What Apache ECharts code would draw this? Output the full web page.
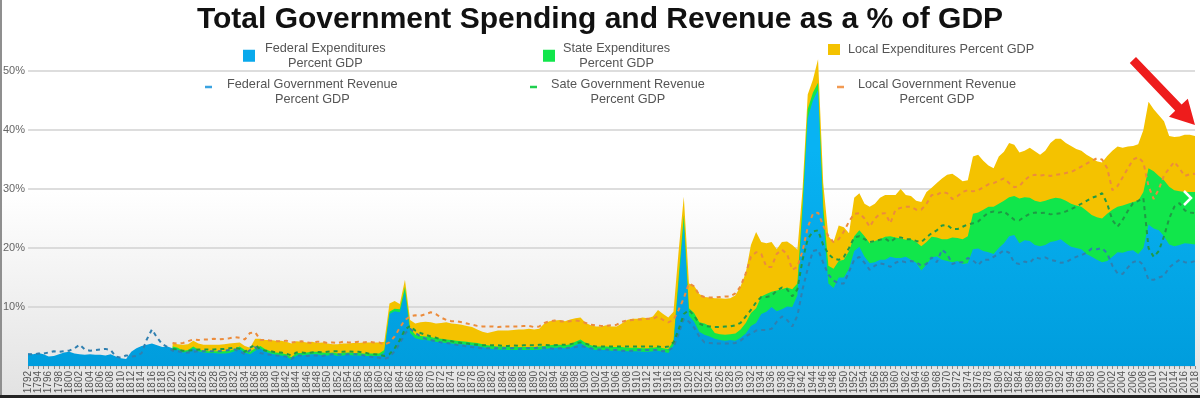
<!DOCTYPE html>
<html>
<head>
<meta charset="utf-8">
<title>Total Government Spending and Revenue as a % of GDP</title>
<script src="https://cdn.jsdelivr.net/npm/echarts@6/dist/echarts.min.js"></script>
<style>
  html, body { margin: 0; padding: 0; }
  body { background: linear-gradient(to bottom, #ffffff 0%, #ffffff 48%, #e2e2e2 100%); }
  #chart { width: 1200px; height: 398px; }
</style>
</head>
<body>
<div id="chart"></div>
<script>
// years on the x axis, 1792 - 2018
var years = [];
for (var yr = 1792; yr <= 2018; yr++) years.push(String(yr));

var yTicks = [0, 10, 20, 30, 40, 50];

// values are the top edge of each band / revenue line, % of GDP
// federal expenditures
var fedTop = [
  2.1, 2.0, 2.2, 2.0, 1.6, 1.7, 2.0, 2.3,
  2.4, 2.1, 2.0, 1.9, 2.0, 1.9, 1.9, 1.8, 2.0, 1.6,
  1.3, 1.2, 2.4, 3.0, 3.4, 3.6, 3.8, 3.5, 3.2, 3.3,
  3.0, 2.8, 2.3, 2.4, 3.0, 2.5, 2.3, 2.2, 2.2, 2.1,
  2.1, 2.2, 2.5, 2.9, 2.3, 2.0, 2.6, 3.0, 2.4, 2.1,
  1.9, 1.8, 1.6, 1.1, 1.8, 1.8, 1.9, 2.0, 2.0, 1.8,
  1.8, 1.9, 1.7, 1.8, 1.9, 1.8, 1.8, 1.7, 1.7, 1.7,
  1.7, 2.3, 8.8, 9.3, 9.1, 12.6, 5.6, 4.7, 4.5, 4.4,
  4.3, 4.1, 4.0, 3.9, 3.8, 3.7, 3.7, 3.6, 3.5, 3.4,
  3.2, 3.0, 2.9, 2.8, 2.8, 2.7, 2.7, 2.7, 2.7, 2.7,
  2.7, 2.8, 2.9, 3.0, 3.1, 3.1, 3.0, 3.1, 3.5, 3.9,
  3.3, 2.9, 2.7, 2.7, 2.7, 2.6, 2.6, 2.6, 2.5, 2.5,
  2.5, 2.4, 2.4, 2.5, 2.6, 2.4, 2.2, 3.5, 14.0, 24.2,
  8.5, 7.5, 5.8, 5.3, 5.0, 4.6, 4.4, 4.3, 4.4, 4.3,
  4.8, 5.5, 6.8, 7.3, 8.8, 9.2, 10.0, 9.3, 9.6, 10.1,
  10.0, 12.0, 26.0, 42.0, 45.0, 46.8, 25.0, 14.0, 13.2, 15.0,
  15.0, 16.5, 19.5, 20.2, 18.5, 17.4, 17.6, 18.0, 18.0, 18.5,
  18.3, 18.3, 18.5, 18.0, 17.5, 16.2, 17.2, 18.4, 18.6, 18.0,
  17.8, 17.6, 17.8, 17.3, 17.4, 19.8, 19.9, 19.5, 19.3, 19.0,
  20.0, 20.8, 22.0, 22.2, 20.8, 21.3, 21.2, 20.5, 20.3, 20.5,
  21.0, 21.2, 21.5, 20.8, 20.2, 20.0, 19.8, 19.0, 18.5, 18.0,
  17.6, 17.8, 18.5, 19.3, 19.2, 19.5, 19.6, 19.0, 20.0, 24.0,
  23.3, 23.0, 22.0, 20.6, 20.3, 20.5, 20.8, 20.7, 20.6
];
// federal + state expenditures
var stateTop = [
  null, null, null, null, null, null, null, null,
  null, null, null, null, null, null, null, null, null, null,
  null, null, null, null, null, null, null, null, null, null,
  3.3, 3.1, 2.6, 2.7, 3.3, 2.8, 2.6, 2.5, 2.5, 2.5,
  2.5, 2.6, 2.9, 3.3, 2.7, 2.4, 3.0, 3.4, 2.8, 2.5,
  2.3, 2.2, 2.0, 1.5, 2.2, 2.2, 2.3, 2.4, 2.4, 2.3,
  2.2, 2.3, 2.1, 2.2, 2.3, 2.2, 2.2, 2.1, 2.1, 2.1,
  2.1, 2.7, 9.2, 9.7, 9.6, 13.4, 6.4, 5.3, 5.1, 5.0,
  4.9, 4.7, 4.6, 4.5, 4.4, 4.3, 4.2, 4.1, 4.0, 3.9,
  3.7, 3.5, 3.4, 3.3, 3.3, 3.2, 3.2, 3.2, 3.2, 3.2,
  3.2, 3.3, 3.4, 3.5, 3.6, 3.6, 3.5, 3.7, 4.1, 4.5,
  3.9, 3.5, 3.3, 3.3, 3.3, 3.2, 3.2, 3.2, 3.1, 3.1,
  3.1, 3.0, 3.0, 3.1, 3.2, 3.0, 2.9, 4.2, 15.0, 25.5,
  9.8, 9.0, 7.4, 7.2, 6.8, 5.6, 5.4, 5.3, 5.4, 5.5,
  6.2, 7.3, 9.0, 9.8, 11.8, 12.2, 12.6, 12.8, 13.0, 13.3,
  13.0, 14.0, 27.5, 43.5, 46.3, 48.0, 27.0, 17.0, 16.5, 17.8,
  18.0, 19.5, 22.0, 23.0, 22.0, 20.8, 21.2, 21.5, 21.9, 22.0,
  21.8, 21.6, 21.4, 21.5, 21.0, 20.3, 21.0, 21.9, 21.8, 21.5,
  21.5, 21.8, 21.7, 21.5, 22.0, 25.8, 26.0, 26.5, 27.0, 27.0,
  27.5, 28.0, 28.6, 28.8, 28.4, 28.6, 28.5, 28.0, 27.8, 28.0,
  28.3, 28.5, 28.4, 28.0, 27.5, 27.2, 27.0, 26.3, 25.6, 25.2,
  25.0, 25.8, 26.5, 27.0, 27.2, 27.5, 27.8, 28.0, 29.5, 33.5,
  33.0, 32.2, 31.5, 30.4, 29.8, 29.6, 29.5, 29.5, 29.5
];
// federal + state + local expenditures
var localTop = [
  null, null, null, null, null, null, null, null,
  null, null, null, null, null, null, null, null, null, null,
  null, null, null, null, null, null, null, null, null, null,
  3.8, 3.7, 3.6, 3.7, 4.3, 3.8, 3.6, 3.6, 3.6, 3.6,
  3.7, 3.8, 3.9, 4.0, 3.4, 3.1, 4.6, 4.6, 4.4, 4.4,
  4.3, 4.3, 4.1, 3.8, 4.2, 4.1, 4.0, 4.1, 3.9, 4.0,
  3.8, 3.7, 3.7, 3.8, 3.8, 3.9, 3.9, 4.0, 4.0, 4.0,
  4.0, 4.1, 10.6, 11.0, 10.5, 14.6, 7.8, 7.2, 7.4, 7.5,
  7.4, 7.2, 7.3, 7.4, 7.2, 7.1, 7.0, 6.8, 6.6, 6.2,
  5.8, 5.6, 5.8, 6.0, 6.0, 6.0, 6.1, 6.2, 6.2, 6.3,
  6.2, 6.3, 7.2, 7.6, 7.7, 7.8, 7.6, 7.9, 8.1, 8.2,
  7.3, 6.9, 6.7, 6.7, 6.9, 6.7, 6.7, 7.2, 7.8, 8.0,
  8.0, 8.2, 8.1, 8.4, 9.5, 8.8, 8.2, 9.2, 19.5, 28.7,
  14.0, 13.6, 12.2, 11.7, 11.6, 11.5, 11.5, 11.4, 11.5, 12.0,
  13.5, 15.8, 20.5, 22.7, 21.0, 20.8, 21.0, 19.8, 21.0, 21.1,
  20.5, 19.7, 30.0, 46.0, 48.5, 52.0, 31.0, 22.0, 21.0, 23.8,
  23.5, 22.5, 28.5, 29.3, 27.5, 27.0, 27.5, 28.5, 29.0, 29.0,
  29.0, 30.0, 29.0, 28.8, 28.0, 27.8, 29.5, 30.2, 31.0, 31.8,
  32.4, 32.6, 32.0, 31.3, 31.5, 35.5, 35.8, 34.8, 34.0, 33.5,
  35.5, 36.3, 37.8, 37.5, 36.2, 36.5, 37.0, 36.4, 35.8, 36.5,
  37.8, 38.5, 38.5, 37.8, 37.3, 36.8, 36.5, 35.8, 35.3, 34.7,
  34.5, 35.6, 36.5, 37.2, 37.0, 37.2, 37.3, 37.6, 40.0, 44.8,
  43.5, 42.5, 41.5, 39.0, 38.8, 38.9, 39.2, 39.2, 39.0
];
// federal revenue
var fedRev = [
  2.0, 2.0, 2.1, 2.1, 2.3, 2.5, 2.4, 2.5,
  2.6, 3.0, 3.6, 2.8, 2.6, 2.7, 2.8, 2.9, 2.7, 1.6,
  1.4, 1.8, 1.6, 1.7, 2.2, 4.5, 6.2, 4.8, 3.7, 3.2,
  2.6, 2.5, 2.3, 2.3, 2.4, 2.5, 2.5, 2.5, 2.5, 2.5,
  2.6, 2.7, 2.8, 2.5, 2.0, 2.7, 3.2, 2.2, 2.0, 1.9,
  1.8, 1.7, 1.6, 1.2, 1.8, 1.8, 1.7, 1.8, 1.8, 1.7,
  1.9, 2.0, 2.0, 1.9, 2.0, 2.0, 2.0, 1.8, 1.6, 1.5,
  1.4, 1.2, 1.5, 2.5, 3.8, 5.5, 6.3, 5.6, 5.0, 4.6,
  4.4, 4.2, 4.0, 3.9, 3.8, 3.6, 3.5, 3.3, 3.2, 3.1,
  3.0, 3.0, 3.0, 3.0, 3.0, 3.0, 3.0, 2.9, 3.0, 3.0,
  3.0, 3.1, 3.1, 3.0, 2.9, 3.0, 3.0, 3.1, 3.2, 3.4,
  3.2, 3.0, 2.8, 2.8, 2.8, 2.7, 2.7, 2.6, 2.6, 2.6,
  2.7, 2.7, 2.7, 2.7, 2.7, 2.5, 2.6, 3.2, 5.5, 8.0,
  7.5, 6.5, 5.0, 4.0, 3.9, 3.8, 3.8, 3.8, 3.8, 3.9,
  4.3, 5.0, 5.5, 6.0, 6.1, 6.1, 6.3, 7.5, 8.4, 7.8,
  6.7, 8.5, 13.0, 16.5, 19.5, 19.7, 17.5, 15.5, 14.5, 14.0,
  14.0, 16.0, 18.0, 18.5, 17.5, 16.3, 17.0, 17.4, 17.2, 16.8,
  17.5, 17.8, 17.6, 17.8, 17.6, 17.0, 17.3, 18.4, 17.6, 19.7,
  19.0, 17.3, 17.6, 17.6, 18.3, 17.9, 17.1, 18.0, 18.0, 18.5,
  19.0, 19.6, 19.2, 17.5, 17.3, 17.7, 17.5, 18.4, 18.2, 18.4,
  18.0, 17.8, 17.5, 17.6, 18.1, 18.5, 18.8, 19.2, 19.9, 19.8,
  20.0, 19.1, 17.0, 15.7, 15.6, 16.7, 17.6, 17.9, 17.1, 14.6,
  14.6, 15.0, 15.3, 16.7, 17.4, 18.0, 17.6, 17.5, 17.8
];
// federal + state revenue
var stateRev = [
  null, null, null, null, null, null, null, null,
  null, null, null, null, null, null, null, null, null, null,
  null, null, null, null, null, null, null, null, null, null,
  2.9, 2.8, 2.6, 2.6, 2.7, 2.8, 2.8, 2.8, 2.8, 2.9,
  2.9, 3.0, 3.1, 2.9, 2.4, 3.1, 3.6, 2.8, 2.6, 2.5,
  2.3, 2.3, 2.1, 1.8, 2.3, 2.3, 2.2, 2.3, 2.4, 2.3,
  2.4, 2.5, 2.5, 2.4, 2.5, 2.4, 2.4, 2.3, 2.1, 2.0,
  1.9, 1.7, 2.0, 3.0, 4.4, 6.2, 6.8, 6.0, 5.6, 5.3,
  5.0, 4.8, 4.5, 4.3, 4.2, 4.0, 3.9, 3.8, 3.7, 3.6,
  3.5, 3.5, 3.5, 3.5, 3.4, 3.4, 3.5, 3.4, 3.5, 3.5,
  3.5, 3.6, 3.6, 3.5, 3.5, 3.6, 3.6, 3.7, 3.9, 4.0,
  3.8, 3.5, 3.3, 3.3, 3.3, 3.3, 3.3, 3.3, 3.3, 3.3,
  3.3, 3.3, 3.3, 3.3, 3.3, 3.2, 3.3, 4.0, 6.2, 8.8,
  9.5, 8.5, 7.2, 6.8, 6.7, 6.6, 6.6, 6.7, 6.7, 6.9,
  7.3, 8.4, 9.5, 10.8, 11.7, 11.7, 11.9, 12.8, 13.3, 13.0,
  11.8, 13.0, 18.0, 21.5, 22.8, 23.0, 20.5, 19.0, 18.2, 18.0,
  18.5, 20.0, 21.8, 22.0, 21.5, 21.0, 21.2, 21.4, 21.6, 21.0,
  21.7, 21.8, 21.5, 21.5, 21.2, 21.0, 21.8, 22.5, 23.0, 23.8,
  23.9, 23.2, 23.2, 23.6, 24.0, 24.2, 24.5, 25.3, 26.0, 26.2,
  26.0, 26.2, 25.5, 24.8, 24.7, 25.3, 25.8, 26.0, 25.9, 26.0,
  25.7, 25.8, 25.9, 26.2, 26.6, 27.0, 27.5, 28.0, 28.5, 28.8,
  29.3, 27.5, 24.7, 23.6, 24.8, 26.3, 27.6, 28.0, 28.5, 20.0,
  18.5, 19.5, 22.0, 25.0, 27.0, 27.6, 26.4, 26.0, 25.9
];
// federal + state + local revenue
var localRev = [
  null, null, null, null, null, null, null, null,
  null, null, null, null, null, null, null, null, null, null,
  null, null, null, null, null, null, null, null, null, null,
  3.9, 3.8, 3.9, 4.2, 4.5, 4.4, 4.5, 4.5, 4.6, 4.5,
  4.6, 4.7, 4.9, 4.8, 4.5, 5.6, 5.7, 4.4, 4.4, 4.3,
  4.2, 4.2, 4.3, 4.0, 4.1, 4.2, 4.0, 3.9, 4.1, 4.1,
  3.9, 4.0, 3.9, 4.1, 4.0, 4.0, 4.1, 4.0, 4.1, 4.0,
  4.0, 3.6, 4.0, 5.0, 6.5, 7.8, 8.4, 8.6, 8.5, 8.8,
  9.1, 8.8, 8.2, 7.8, 7.6, 7.6, 7.4, 7.2, 7.0, 6.8,
  6.7, 6.7, 6.7, 6.6, 6.7, 6.7, 6.7, 6.7, 6.8, 6.8,
  6.6, 6.7, 7.3, 7.6, 7.7, 7.6, 7.5, 7.6, 7.7, 7.6,
  7.3, 7.0, 6.9, 6.8, 6.8, 6.9, 7.0, 7.5, 7.7, 7.8,
  7.9, 7.9, 8.0, 8.0, 8.4, 7.8, 7.4, 7.8, 9.5, 11.5,
  14.0, 13.5, 12.0, 11.7, 11.6, 11.6, 11.7, 11.8, 11.8, 12.3,
  13.5, 15.7, 18.5, 19.3, 19.0, 16.8, 16.8, 19.0, 19.7, 19.0,
  16.3, 16.8, 19.5, 23.5, 25.8, 26.0, 23.8, 22.0, 21.0, 21.5,
  22.8, 24.5, 25.8, 25.9, 25.0, 23.6, 25.0, 25.8, 25.9, 24.2,
  26.5, 26.8, 27.0, 27.0, 26.5, 26.5, 27.5, 29.0, 29.0, 29.5,
  29.3, 28.3, 28.8, 29.5, 29.8, 29.6, 29.8, 30.3, 30.8, 31.0,
  31.4, 31.8, 31.0, 30.3, 30.5, 31.5, 32.2, 32.4, 32.3, 32.4,
  32.2, 32.4, 32.5, 32.7, 32.9, 33.3, 33.8, 34.3, 34.8, 35.2,
  35.0, 33.5, 29.8, 30.5, 32.0, 33.5, 35.0, 35.4, 34.5, 30.5,
  28.3, 30.0, 32.3, 33.5, 34.6, 33.5, 32.2, 32.5, 32.6
];

var font = 'Liberation Sans, Arial, Helvetica, sans-serif';
var myChart = echarts.init(document.getElementById('chart'), null, { renderer: 'canvas' });

// stacked look: each band is drawn from 0 to its top, later ones cover earlier ones
function areaSeries(name, data, fill, iconColor, z) {
  return {
    name: name,
    type: 'line',
    data: data,
    symbol: 'none',
    clip: false,
    z: z,
    lineStyle: { width: 0 },
    itemStyle: { color: iconColor },
    areaStyle: { color: fill, opacity: 1 },
    emphasis: { disabled: true }
  };
}
function revSeries(name, data, color) {
  return {
    name: name,
    type: 'line',
    data: data,
    symbol: 'none',
    clip: false,
    z: 5,
    itemStyle: { color: color },
    lineStyle: { color: color, width: 2, type: [4, 4] },
    emphasis: { disabled: true }
  };
}

// one legend per entry so each can sit where it does in the picture
// lift: height of an empty first line, pushes the text below the icon centre
function legendBox(name, lines, left, top, iconW, iconH, iconColor, pad, lift) {
  var rich = {
    sp: { fontSize: 1, lineHeight: lift }
  };
  var parts = lift ? ['{sp| }'] : [];
  lines.forEach(function (s, i) {
    rich['l' + i] = {
      align: 'center',
      fontSize: 12.7,
      lineHeight: 14.5,
      color: '#555',
      fontFamily: font,
      padding: [0, 0, 0, pad]
    };
    parts.push('{l' + i + '|' + s + '}');
  });
  return {
    left: left,
    top: top,
    padding: 0,
    icon: 'rect',
    itemWidth: iconW,
    itemHeight: iconH,
    selectedMode: false,
    data: [{ name: name, itemStyle: { color: iconColor } }],
    formatter: parts.join('\n'),
    textStyle: { rich: rich }
  };
}

var FE = 'Federal Expenditures Percent GDP';
var SE = 'State Expenditures Percent GDP';
var LE = 'Local Expenditures Percent GDP';
var FR = 'Federal Government Revenue Percent GDP';
var SR = 'Sate Government Revenue Percent GDP';
var LR = 'Local Government Revenue Percent GDP';

var blueFill = new echarts.graphic.LinearGradient(0, 150, 0, 366, [
  { offset: 0, color: '#08b3f3' },
  { offset: 1, color: '#009ddd' }
], true);

var option = {
  animation: false,
  backgroundColor: 'transparent',
  title: {
    text: 'Total Government Spending and Revenue as a % of GDP',
    left: 'center',
    top: 0,
    textStyle: { fontSize: 30, fontWeight: 'bold', color: '#111', fontFamily: font }
  },
  legend: [
    legendBox(FE, ['Federal Expenditures', 'Percent GDP'], 243, 42, 12, 12, '#09a9ec', 5, 0),
    legendBox(FR, ['Federal Government Revenue', 'Percent GDP'], 205, 72, 7, 2.5, '#3aa3e0', 10, 10),
    legendBox(SE, ['State Expenditures', 'Percent GDP'], 543, 42, 12, 12, '#11e64b', 3, 0),
    legendBox(SR, ['Sate Government Revenue', 'Percent GDP'], 530, 72, 7, 2.5, '#1fcf4f', 9, 10),
    legendBox(LE, ['Local Expenditures Percent GDP'], 828, 43, 12, 11, '#f4c200', 3, 0),
    legendBox(LR, ['Local Government Revenue', 'Percent GDP'], 837, 72, 7, 2.5, '#f29a52', 9, 10)
  ],
  grid: { left: 28, right: 4, top: 71, bottom: 32 },
  xAxis: {
    type: 'category',
    data: years,
    boundaryGap: false,
    axisLine: { show: false },
    axisTick: { show: true, interval: 0, length: 3, lineStyle: { color: '#8a8a8a' } },
    axisLabel: { interval: 1, rotate: 90, fontSize: 10, color: '#555', margin: 5, fontFamily: font },
    splitLine: { show: false }
  },
  yAxis: {
    type: 'value',
    min: yTicks[0],
    max: yTicks[yTicks.length - 1],
    interval: 10,
    axisLine: { show: false },
    axisTick: { show: false },
    axisLabel: { formatter: '{value}%', showMinLabel: false, color: '#666', fontSize: 11, margin: 3, fontFamily: font },
    splitLine: { lineStyle: { color: '#d2d2d2', width: 1.5 } }
  },
  series: [
    areaSeries(LE, localTop, '#f4c200', '#f4c200', 1),
    areaSeries(SE, stateTop, '#11e64b', '#11e64b', 2),
    areaSeries(FE, fedTop, blueFill, '#09a9ec', 3),
    revSeries(FR, fedRev, '#2f7fb0'),
    revSeries(SR, stateRev, '#1f9a45'),
    revSeries(LR, localRev, '#ec8c3c')
  ],
  graphic: [
    // frame edge on the left and the dark strip along the bottom
    { type: 'rect', left: 0, top: 0, shape: { width: 2, height: 395 }, style: { fill: '#8f8f8f' }, silent: true },
    { type: 'rect', left: 0, top: 395, shape: { width: 1200, height: 3 }, style: { fill: '#242424' }, silent: true },
    // red arrow pointing at the last years
    {
      type: 'polygon', z: 100, silent: true,
      shape: { points: [[1136, 57], [1181.6, 104.6], [1187.8, 98.7], [1195, 125], [1169, 116.7], [1175.2, 110.8], [1129.8, 63.1]] },
      style: { fill: '#ee1c1c' }
    },
    // little white chevron
    {
      type: 'polyline', z: 100, silent: true,
      shape: { points: [[1184, 191], [1191, 198], [1184, 205]] },
      style: { stroke: '#ffffff', lineWidth: 2.5, fill: null }
    }
  ]
};

myChart.setOption(option);
window.addEventListener('resize', function () {
  myChart.resize();
});
</script>
</body>
</html>
